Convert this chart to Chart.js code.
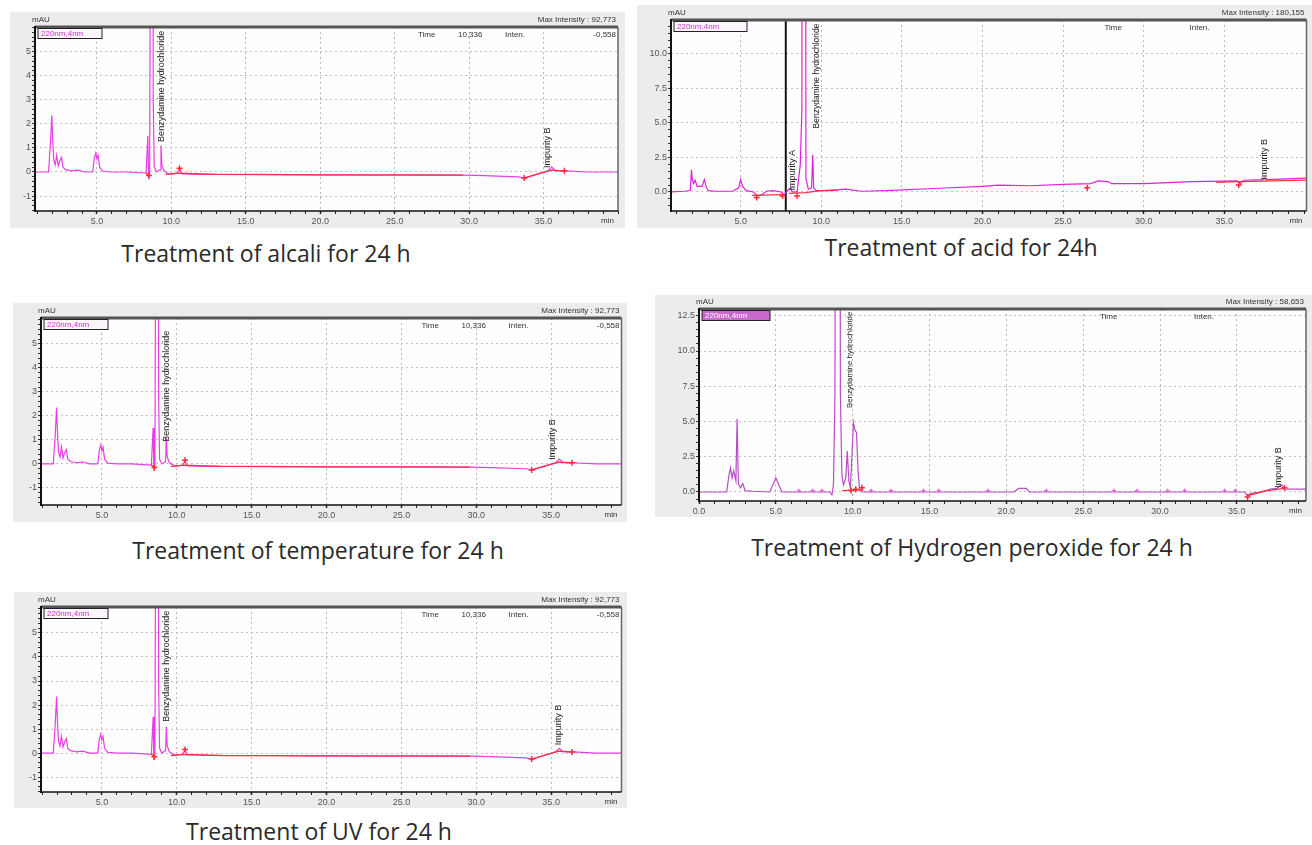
<!DOCTYPE html>
<html>
<head>
<meta charset="utf-8">
<title>Forced degradation chromatograms</title>
<script src="https://cdn.jsdelivr.net/npm/chart.js"></script>
<style>
  body { margin: 0; width: 1312px; height: 845px; position: relative; overflow: hidden; background: #fff; }
  .panel { position: absolute; background: #ececec; }
  .panel canvas { display: block; }
  .cap { position: absolute; font-family: "Open Sans", sans-serif; font-size: 23px; line-height: 23px; color: #2a2a2a;
         white-space: nowrap; transform: translateX(-50%); }
</style>
</head>
<body>
  <div class="panel" style="left:10px;top:12px;"><canvas id="alcali" width="615" height="216"></canvas></div>
  <div class="panel" style="left:637px;top:5px;"><canvas id="acid" width="675" height="223"></canvas></div>
  <div class="panel" style="left:13px;top:303px;"><canvas id="temp" width="614" height="219"></canvas></div>
  <div class="panel" style="left:655px;top:295px;"><canvas id="hp" width="657" height="222"></canvas></div>
  <div class="panel" style="left:14px;top:592px;"><canvas id="uv" width="613" height="216"></canvas></div>

  <div class="cap" style="left:266px;top:242px;">Treatment of alcali for 24 h</div>
  <div class="cap" style="left:961px;top:236px;">Treatment of acid for 24h</div>
  <div class="cap" style="left:318px;top:539px;">Treatment of temperature for 24 h</div>
  <div class="cap" style="left:972px;top:536px;">Treatment of Hydrogen peroxide for 24 h</div>
  <div class="cap" style="left:319px;top:820px;">Treatment of UV for 24 h</div>

<script>
// ---- alcali trace (temperature and UV read the same off the picture) ----
var alcaliTime = [0.84, 1.75, 1.88, 1.97, 2.03, 2.1, 2.2, 2.3, 2.4, 2.5, 2.62, 2.72, 2.9, 3.3, 3.7, 4.2, 4.72, 4.82, 4.92, 5.0,
                  5.07, 5.18, 5.4, 6.0, 7.0, 8.3, 8.42, 8.47, 8.54, 8.58, 8.62, 8.72, 8.78, 8.85, 9.0, 9.25, 9.3, 9.36, 9.5, 9.9,
                  10.4, 10.55, 10.7, 12, 16, 20, 26, 29.6, 31, 33.3, 33.7, 34.5, 35.3, 35.55, 35.8, 36.5, 38, 40];
var alcaliMAU  = [0, 0, 1.2, 2.35, 1.3, 0.5, 0.3, 0.7, 0.25, 0.45, 0.6, 0.2, 0.1, 0.05, 0.08, 0, 0, 0.55, 0.78, 0.55,
                  0.7, 0.2, 0.03, 0, 0, -0.05, 1.5, -0.3, 0, 8, 100, 100, 3, 0.2, 0, 0.1, 1.1, 0.3, 0.05, -0.1,
                  -0.05, 0.15, -0.08, -0.1, -0.1, -0.12, -0.12, -0.13, -0.15, -0.2, -0.25, -0.1, 0.05, 0.2, 0.05, 0.05, 0, 0];
// red integration baseline (null = gap)
var alcaliBaseTime = [8.3, 8.55, 8.6, 9.6, 10.5, 13, 20, 29.6, 31, 33.7, 35.5, 36.4];
var alcaliBaseMAU  = [-0.05, -0.15, null, -0.1, -0.05, -0.1, -0.12, -0.13, null, -0.25, 0.08, 0.05];
var alcaliMarkTime = [8.5, 10.55, 33.7, 36.4];
var alcaliMarkMAU  = [-0.15, 0.15, -0.25, 0.05];

// ---- acid trace ----
var acidTime = [0.68, 1.5, 1.88, 1.95, 2.0, 2.08, 2.18, 2.3, 2.6, 2.75, 2.88, 3.0, 3.5, 4.5, 4.88, 5.0, 5.12, 5.35, 5.8, 6.0,
                6.3, 6.6, 7.0, 7.5, 7.7, 7.85, 8.0, 8.1, 8.2, 8.5, 8.7, 8.8, 8.85, 8.95, 9.05, 9.2, 9.4, 9.47, 9.53, 9.7,
                10.5, 11.5, 12.5, 14, 17, 20, 21, 23, 25, 26.7, 27.2, 27.8, 28, 30, 33, 35.8, 36.0, 36.2, 37.4, 37.5, 37.6, 40.1];
var acidMAU  = [0, 0.05, 0.1, 1.6, 0.9, 0.6, 0.85, 0.4, 0.4, 0.9, 0.3, 0.1, 0.05, 0.05, 0.3, 0.9, 0.4, 0.1, 0, -0.3,
                -0.2, 0.05, 0.1, 0, -0.2, 0, 0.2, 0.3, 0, 0, 2, 6, 100, 100, 1, 0.2, 0.3, 2.7, 0.3, 0.1,
                0.1, 0.2, 0.05, 0.1, 0.25, 0.4, 0.5, 0.45, 0.55, 0.6, 0.8, 0.75, 0.6, 0.6, 0.75, 0.8, 0.6, 0.85, 0.9, 1.0, 0.9, 1.0];
var acidBaseTime = [5.7, 7.6, 7.8, 8.0, 9.0, 10, 11, 12, 34.5, 35.9, 40.1];
var acidBaseMAU  = [-0.25, -0.2, null, -0.1, -0.05, 0.1, 0.15, null, 0.7, 0.75, 0.85];
var acidMarkTime = [6.0, 7.6, 8.5, 26.5, 35.9];
var acidMarkMAU  = [-0.4, -0.3, -0.3, 0.3, 0.5];
var acidCursorTime = 7.8;

// ---- hydrogen peroxide trace ----
var hpTime = [0, 1.8, 1.95, 2.05, 2.15, 2.25, 2.4, 2.48, 2.56, 2.7, 2.85, 3.0, 3.5, 4.6, 4.85, 5.0, 5.15, 5.4, 8.5, 8.65,
              8.75, 8.85, 8.95, 9.1, 9.2, 9.3, 9.4, 9.55, 9.65, 9.75, 9.85, 9.95, 10.05, 10.15, 10.25, 10.35, 10.45, 10.6, 20.5, 20.8,
              21.3, 21.5, 35.5, 35.7, 35.9, 36.5, 37.2, 37.6, 37.9, 38.1, 39.5];
var hpMAU  = [0, 0, 1.2, 1.7, 1.0, 1.5, 0.8, 5.2, 0.6, 0.3, 0.6, 0.1, 0.05, 0, 0.6, 1.0, 0.6, 0, 0, -0.2,
              0.5, 7, 100, 100, 7, 1.2, 0.5, 1.0, 2.9, 0.8, 0.3, 2.5, 4.9, 4.4, 4.2, 1.5, 0.2, 0, 0, 0.25,
              0.25, 0, 0, -0.3, -0.1, 0, 0.2, 0.25, 0.5, 0.2, 0.2];
var hpBaseTime = [9.3, 10.7, 10.8, 35.7, 37.0, 38.1];
var hpBaseMAU  = [0.1, 0.15, null, -0.25, 0.1, 0.25];
var hpMarkTime = [9.9, 10.2, 10.6, 35.7, 38.1];
var hpMarkMAU  = [0.1, 0.2, 0.3, -0.35, 0.3];
var hpNoiseTime = [6.5, 7.4, 8.0, 11.2, 12.5, 14.6, 15.6, 18.8, 22.6, 27.0, 28.5, 30.5, 31.6, 34.2, 34.9];
var hpNoiseMAU  = [0.1, 0.1, 0.1, 0.1, 0.1, 0.1, 0.1, 0.1, 0.1, 0.1, 0.1, 0.1, 0.1, 0.1, 0.1];

// axis ticks
var minuteLabels = [5, 10, 15, 20, 25, 30, 35];
var hpMinuteLabels = [0, 5, 10, 15, 20, 25, 30, 35];
var smallYLabels = [-1, 0, 1, 2, 3, 4, 5];
var acidYLabels = [0, 2.5, 5, 7.5, 10];
var hpYLabels = [0, 2.5, 5, 7.5, 10, 12.5];

function pts(t, v) { return t.map(function (x, i) { return { x: x, y: v[i] }; }); }
function steps(from, to, step) {
  var out = [];
  for (var k = Math.ceil(from / step - 1e-9); k * step <= to + 1e-9; k++) out.push(Math.round(k * step * 100) / 100);
  return out;
}
function hasTick(list, v) { return list.some(function (m) { return Math.abs(m - v) < 1e-6; }); }

var chromDeco = {
  id: 'chromDeco',
  beforeDraw: function (chart) {
    var a = chart.chartArea, c = chart.ctx;
    c.save();
    c.fillStyle = '#fefefe';
    c.fillRect(a.left, a.top, a.right - a.left, a.bottom - a.top);
    c.restore();
  },
  afterDatasetsDraw: function (chart, args, o) {
    var c = chart.ctx, a = chart.chartArea, xs = chart.scales.x, ys = chart.scales.y;
    function seg(x1, y1, x2, y2, col, w) {
      c.beginPath(); c.strokeStyle = col; c.lineWidth = w; c.moveTo(x1, y1); c.lineTo(x2, y2); c.stroke();
    }
    c.save();

    // peak labels, written upwards from the apex, cut at the plot top
    c.save();
    c.beginPath(); c.rect(a.left, a.top, a.right - a.left, a.bottom - a.top); c.clip();
    c.fillStyle = '#202020';
    c.textAlign = 'left';
    c.textBaseline = 'middle';
    o.peaks.forEach(function (pk) {
      var px = xs.getPixelForValue(pk.t), py = ys.getPixelForValue(pk.v);
      c.font = (pk.size || 9) + 'px "Liberation Sans", Arial';
      c.save(); c.translate(px, py); c.rotate(-Math.PI / 2); c.fillText(pk.text, 0, 0); c.restore();
    });
    c.restore();

    // frame
    seg(a.left, a.top, a.right, a.top, '#555', 3);
    seg(a.right, a.top, a.right, a.bottom, '#666', 1.5);
    seg(a.left, a.bottom, a.right, a.bottom, '#111', 1.5);
    seg(a.left, a.top - 1, a.left, a.bottom + 1, '#111', 2);

    // header texts
    c.font = '8px "Liberation Sans", Arial';
    c.fillStyle = '#333';
    c.textBaseline = 'alphabetic';
    c.textAlign = 'left';
    c.fillText('mAU', a.left - 3, a.top - 5);
    c.textAlign = 'right';
    c.fillText(o.maxText, a.right - 2, a.top - 5);
    o.inner.forEach(function (it) {
      c.textAlign = it.align || 'left';
      c.fillText(it.text, a.right + it.dx, a.top + 10);
    });
    c.textAlign = 'right';
    c.fillText('min', a.right - 4, a.bottom + 12);

    // channel box
    var bx = a.left + 3, by = a.top + 1.5, bw = o.boxW, bh = 10;
    c.fillStyle = o.boxFill;
    c.fillRect(bx, by, bw, bh);
    c.strokeStyle = '#222'; c.lineWidth = 1;
    c.strokeRect(bx, by, bw, bh);
    c.fillStyle = o.boxText;
    c.textAlign = 'left'; c.textBaseline = 'middle';
    c.fillText('220nm,4nm', bx + 3, by + bh / 2 + 0.5);
    c.restore();
  }
};

function makeChrom(id, p) {
  var ds = [
    { data: pts(p.markTime, p.markMAU), showLine: false, pointStyle: 'cross', pointRadius: 3,
      borderColor: '#ff2a3c', borderWidth: 1.5, order: 0 },
    { data: pts(p.baseTime, p.baseMAU), borderColor: '#ff3040', borderWidth: 1.3, pointRadius: 0, spanGaps: false, order: 1 },
    { data: pts(p.time, p.mau), borderColor: p.color, borderWidth: 1.2, pointRadius: 0, order: 2 }
  ];
  if (p.noiseTime) {
    ds.push({ data: pts(p.noiseTime, p.noiseMAU), showLine: false, pointStyle: 'cross', pointRadius: 2,
              borderColor: '#e455d4', borderWidth: 1, order: 0 });
  }
  if (p.cursor !== undefined) {
    ds.push({ data: [{ x: p.cursor, y: p.yMin - 5 }, { x: p.cursor, y: p.yMax + 5 }],
              borderColor: '#151515', borderWidth: 2, pointRadius: 0, order: 3 });
  }
  var tickFont = { size: 9, family: '"Liberation Sans", Arial' };
  new Chart(document.getElementById(id), {
    type: 'line',
    data: { datasets: ds },
    options: {
      responsive: false,
      animation: false,
      events: [],
      elements: { line: { tension: 0, fill: false } },
      layout: { padding: { top: p.padTop, right: p.padRight, left: 0, bottom: 0 } },
      plugins: { legend: { display: false }, tooltip: { enabled: false }, chromDeco: p.deco },
      scales: {
        x: {
          type: 'linear', min: p.xMin, max: p.xMax,
          afterBuildTicks: function (s) { s.ticks = steps(p.xMin, p.xMax, 1).map(function (v) { return { value: v }; }); },
          afterFit: function (s) { s.height = p.xAxisH; },
          ticks: { autoSkip: false, maxRotation: 0, padding: 2, font: tickFont, color: '#555',
                   callback: function (v) { return hasTick(p.xLabels, v) ? v.toFixed(1) : ''; } },
          grid: {
            color: function (ctx) { return ctx.tick && hasTick(p.xLabels, ctx.tick.value) && ctx.tick.value > p.xMin + 0.5 ? '#b9b9b9' : 'rgba(0,0,0,0)'; },
            tickLength: 3, tickColor: '#222',
            tickWidth: function (ctx) { return ctx.tick && hasTick(p.xLabels, ctx.tick.value) ? 1.5 : 1; }
          },
          border: { display: false, dash: [2, 3] }
        },
        y: {
          type: 'linear', min: p.yMin, max: p.yMax,
          afterBuildTicks: function (s) { s.ticks = steps(p.yMin, p.yMax, p.yStep).map(function (v) { return { value: v }; }); },
          afterFit: function (s) { s.width = p.yAxisW; },
          ticks: { autoSkip: false, padding: 1, font: tickFont, color: '#555',
                   callback: function (v) { return hasTick(p.yLabels, v) ? p.yFmt(v) : ''; } },
          grid: {
            color: function (ctx) { return ctx.tick && hasTick(p.yLabels, ctx.tick.value) ? '#c2c2c2' : 'rgba(0,0,0,0)'; },
            tickLength: 3, tickColor: '#333'
          },
          border: { display: false, dash: [2, 3] }
        }
      }
    },
    plugins: [chromDeco]
  });
}

var decoSmall = function (peaks) {
  return {
    peaks: peaks,
    maxText: 'Max Intensity : 92,773',
    inner: [{ text: 'Time', dx: -200 }, { text: '10,336', dx: -160 }, { text: 'Inten.', dx: -113 }, { text: '-0,558', dx: -2, align: 'right' }],
    boxW: 64, boxFill: '#fbf4fb', boxText: '#d22ed2'
  };
};
function intY(v) { return String(Math.round(v)); }
function oneDec(v) { return v.toFixed(1); }

makeChrom('alcali', {
  time: alcaliTime, mau: alcaliMAU, baseTime: alcaliBaseTime, baseMAU: alcaliBaseMAU,
  markTime: alcaliMarkTime, markMAU: alcaliMarkMAU, color: '#e83ee4',
  xMin: 0.84, xMax: 40, yMin: -1.62, yMax: 6.02, yStep: 0.2,
  xLabels: minuteLabels, yLabels: smallYLabels, yFmt: intY,
  padTop: 15, padRight: 7, xAxisH: 17, yAxisW: 25,
  deco: decoSmall([{ t: 9.33, v: 1.25, text: 'Benzydamine hydrochloride' }, { t: 35.25, v: 0.17, text: 'Impurity B' }])
});

makeChrom('temp', {
  time: alcaliTime, mau: alcaliMAU, baseTime: alcaliBaseTime, baseMAU: alcaliBaseMAU,
  markTime: alcaliMarkTime, markMAU: alcaliMarkMAU, color: '#e83ee4',
  xMin: 0.93, xMax: 39.7, yMin: -1.71, yMax: 6.08, yStep: 0.2,
  xLabels: minuteLabels, yLabels: smallYLabels, yFmt: intY,
  padTop: 15, padRight: 5, xAxisH: 17, yAxisW: 28,
  deco: decoSmall([{ t: 9.33, v: 0.92, text: 'Benzydamine hydrochloride' }, { t: 35.1, v: 0.17, text: 'Impurity B' }])
});

makeChrom('uv', {
  time: alcaliTime, mau: alcaliMAU, baseTime: alcaliBaseTime, baseMAU: alcaliBaseMAU,
  markTime: alcaliMarkTime, markMAU: alcaliMarkMAU, color: '#e83ee4',
  xMin: 0.93, xMax: 39.7, yMin: -1.62, yMax: 6.08, yStep: 0.2,
  xLabels: minuteLabels, yLabels: smallYLabels, yFmt: intY,
  padTop: 15, padRight: 5, xAxisH: 16, yAxisW: 27,
  deco: decoSmall([{ t: 9.33, v: 1.3, text: 'Benzydamine hydrochloride' }, { t: 35.5, v: 0.33, text: 'Impurity B' }])
});

makeChrom('acid', {
  time: acidTime, mau: acidMAU, baseTime: acidBaseTime, baseMAU: acidBaseMAU,
  markTime: acidMarkTime, markMAU: acidMarkMAU, color: '#e020dc', cursor: acidCursorTime,
  xMin: 0.68, xMax: 40.1, yMin: -1.38, yMax: 12.46, yStep: 0.5,
  xLabels: minuteLabels, yLabels: acidYLabels, yFmt: oneDec,
  padTop: 15, padRight: 0, xAxisH: 17, yAxisW: 34,
  deco: {
    peaks: [{ t: 8.2, v: 0.1, text: 'Impurity A' }, { t: 9.72, v: 4.6, text: 'Benzydamine hydrochloride', size: 8.5 },
            { t: 37.5, v: 0.9, text: 'Impurity B' }],
    maxText: 'Max Intensity : 180,155',
    inner: [{ text: 'Time', dx: -202 }, { text: 'Inten.', dx: -117 }],
    boxW: 73, boxFill: '#fbf4fb', boxText: '#c23ac8'
  }
});

makeChrom('hp', {
  time: hpTime, mau: hpMAU, baseTime: hpBaseTime, baseMAU: hpBaseMAU,
  markTime: hpMarkTime, markMAU: hpMarkMAU, noiseTime: hpNoiseTime, noiseMAU: hpNoiseMAU, color: '#b84cc6',
  xMin: 0, xMax: 39.5, yMin: -0.64, yMax: 12.98, yStep: 0.5,
  xLabels: hpMinuteLabels, yLabels: hpYLabels, yFmt: oneDec,
  padTop: 14, padRight: 6, xAxisH: 16, yAxisW: 44,
  deco: {
    peaks: [{ t: 9.8, v: 5.96, text: 'Benzydamine hydrochloride', size: 7.8 }, { t: 37.7, v: 0.3, text: 'Impurity B' }],
    maxText: 'Max Intensity : 58,653',
    inner: [{ text: 'Time', dx: -206 }, { text: 'Inten.', dx: -112 }],
    boxW: 68, boxFill: '#c868cc', boxText: '#ffffff'
  }
});
</script>
</body>
</html>
